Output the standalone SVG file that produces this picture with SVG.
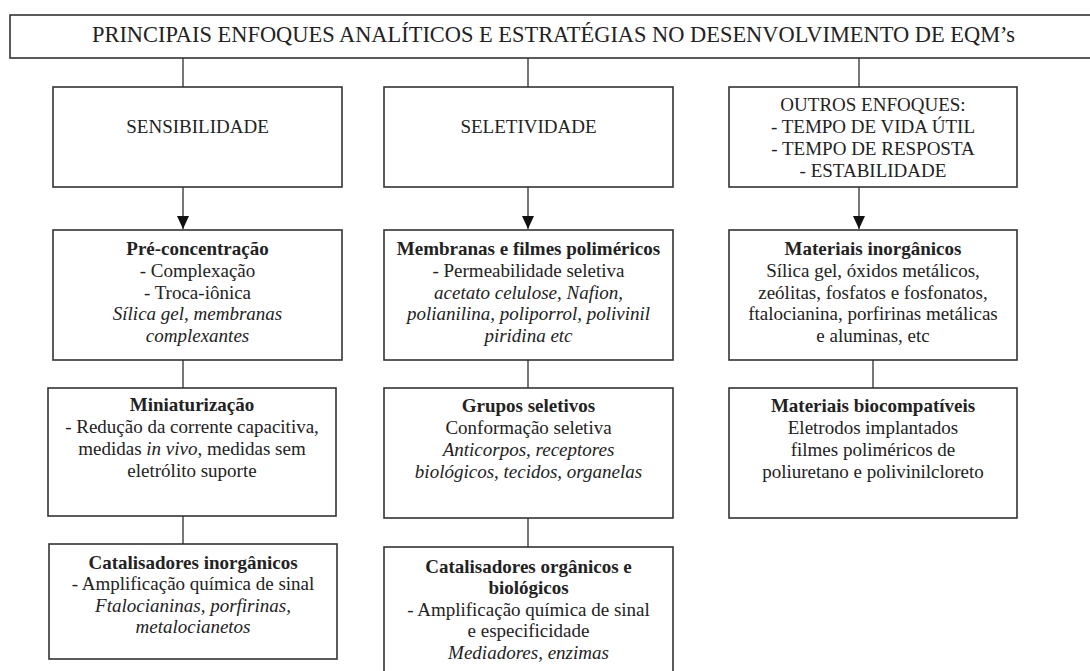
<svg xmlns="http://www.w3.org/2000/svg" width="1090" height="671" viewBox="0 0 1090 671">
<style>
.box{fill:#fff;stroke:#333;stroke-width:1.6}
.ln{stroke:#555;stroke-width:1.6;fill:none}
text{font-family:"Liberation Serif","Times New Roman",serif;font-size:19px;fill:#222;text-anchor:middle}
.b{font-weight:bold}
.i{font-style:italic}
</style>
<defs>
<marker id="ah" markerUnits="userSpaceOnUse" markerWidth="14" markerHeight="12" viewBox="0 0 14 12" refX="13" refY="6" orient="auto">
<path d="M0,0 L13,6 L0,12 Z" fill="#111"/>
</marker>
</defs>
<rect width="1090" height="671" fill="#fff"/>
<g id="connectors">
<line class="ln" x1="183" y1="58" x2="183" y2="87"/>
<line class="ln" x1="528" y1="58" x2="528" y2="87"/>
<line class="ln" x1="859" y1="58" x2="859" y2="87"/>
<line class="ln" x1="183" y1="187" x2="183" y2="229" marker-end="url(#ah)"/>
<line class="ln" x1="528" y1="187" x2="528" y2="229" marker-end="url(#ah)"/>
<line class="ln" x1="859" y1="187" x2="859" y2="229" marker-end="url(#ah)"/>
<line class="ln" x1="183" y1="360" x2="183" y2="388"/>
<line class="ln" x1="528" y1="360" x2="528" y2="388"/>
<line class="ln" x1="873" y1="360" x2="873" y2="388"/>
<line class="ln" x1="183" y1="516" x2="183" y2="544"/>
<line class="ln" x1="528" y1="518" x2="528" y2="547"/>
</g>
<g id="title">
<rect class="box" x="10" y="15" width="1090" height="43"/>
<text x="92" y="42" style="text-anchor:start;font-size:24px" textLength="923" lengthAdjust="spacingAndGlyphs">PRINCIPAIS ENFOQUES ANALÍTICOS E ESTRATÉGIAS NO DESENVOLVIMENTO DE EQM’s</text>
</g>
<g id="sensibilidade">
<rect class="box" x="53" y="87" width="289" height="100"/>
<text x="197.5" y="133">SENSIBILIDADE</text>
</g>
<g id="seletividade">
<rect class="box" x="384" y="87" width="289" height="100"/>
<text x="528.5" y="133">SELETIVIDADE</text>
</g>
<g id="outros">
<rect class="box" x="729" y="87" width="288" height="100"/>
<text x="873" y="111">OUTROS ENFOQUES:</text>
<text x="873" y="133">- TEMPO DE VIDA ÚTIL</text>
<text x="873" y="155">- TEMPO DE RESPOSTA</text>
<text x="873" y="177">- ESTABILIDADE</text>
</g>
<g id="preconcentracao">
<rect class="box" x="53" y="230" width="289" height="130"/>
<text x="197.5" y="255" class="b">Pré-concentração</text>
<text x="197.5" y="277">- Complexação</text>
<text x="197.5" y="299">- Troca-iônica</text>
<text x="197.5" y="320" class="i">Sílica gel, membranas</text>
<text x="197.5" y="342" class="i">complexantes</text>
</g>
<g id="membranas">
<rect class="box" x="384" y="230" width="289" height="130"/>
<text x="528.5" y="255" class="b">Membranas e filmes poliméricos</text>
<text x="528.5" y="277">- Permeabilidade seletiva</text>
<text x="528.5" y="299" class="i">acetato celulose, Nafion,</text>
<text x="528.5" y="320" class="i">polianilina, poliporrol, polivinil</text>
<text x="528.5" y="342" class="i">piridina etc</text>
</g>
<g id="inorganicos">
<rect class="box" x="729" y="230" width="288" height="130"/>
<text x="873" y="255" class="b">Materiais inorgânicos</text>
<text x="873" y="277">Sílica gel, óxidos metálicos,</text>
<text x="873" y="299">zeólitas, fosfatos e fosfonatos,</text>
<text x="873" y="320">ftalocianina, porfirinas metálicas</text>
<text x="873" y="342">e aluminas, etc</text>
</g>
<g id="miniaturizacao">
<rect class="box" x="48" y="388" width="288" height="128"/>
<text x="192" y="411" class="b">Miniaturização</text>
<text x="192" y="433">- Redução da corrente capacitiva,</text>
<text x="192" y="455">medidas <tspan class="i">in vivo</tspan>, medidas sem</text>
<text x="192" y="477">eletrólito suporte</text>
</g>
<g id="grupos">
<rect class="box" x="384" y="388" width="289" height="130"/>
<text x="528.5" y="412" class="b">Grupos seletivos</text>
<text x="528.5" y="434">Conformação seletiva</text>
<text x="528.5" y="456" class="i">Anticorpos, receptores</text>
<text x="528.5" y="478" class="i">biológicos, tecidos, organelas</text>
</g>
<g id="biocompativeis">
<rect class="box" x="729" y="388" width="288" height="130"/>
<text x="873" y="412" class="b">Materiais biocompatíveis</text>
<text x="873" y="434">Eletrodos implantados</text>
<text x="873" y="456">filmes poliméricos de</text>
<text x="873" y="478">poliuretano e polivinilcloreto</text>
</g>
<g id="catalisadores-inorganicos">
<rect class="box" x="49" y="544" width="288" height="115"/>
<text x="193" y="569" class="b">Catalisadores inorgânicos</text>
<text x="193" y="590">- Amplificação química de sinal</text>
<text x="193" y="612" class="i">Ftalocianinas, porfirinas,</text>
<text x="193" y="633" class="i">metalocianetos</text>
</g>
<g id="catalisadores-organicos">
<rect class="box" x="384" y="547" width="289" height="140"/>
<text x="528.5" y="573" class="b">Catalisadores orgânicos e</text>
<text x="528.5" y="594" class="b">biológicos</text>
<text x="528.5" y="616">- Amplificação química de sinal</text>
<text x="528.5" y="637">e especificidade</text>
<text x="528.5" y="659" class="i">Mediadores, enzimas</text>
</g>
</svg>
